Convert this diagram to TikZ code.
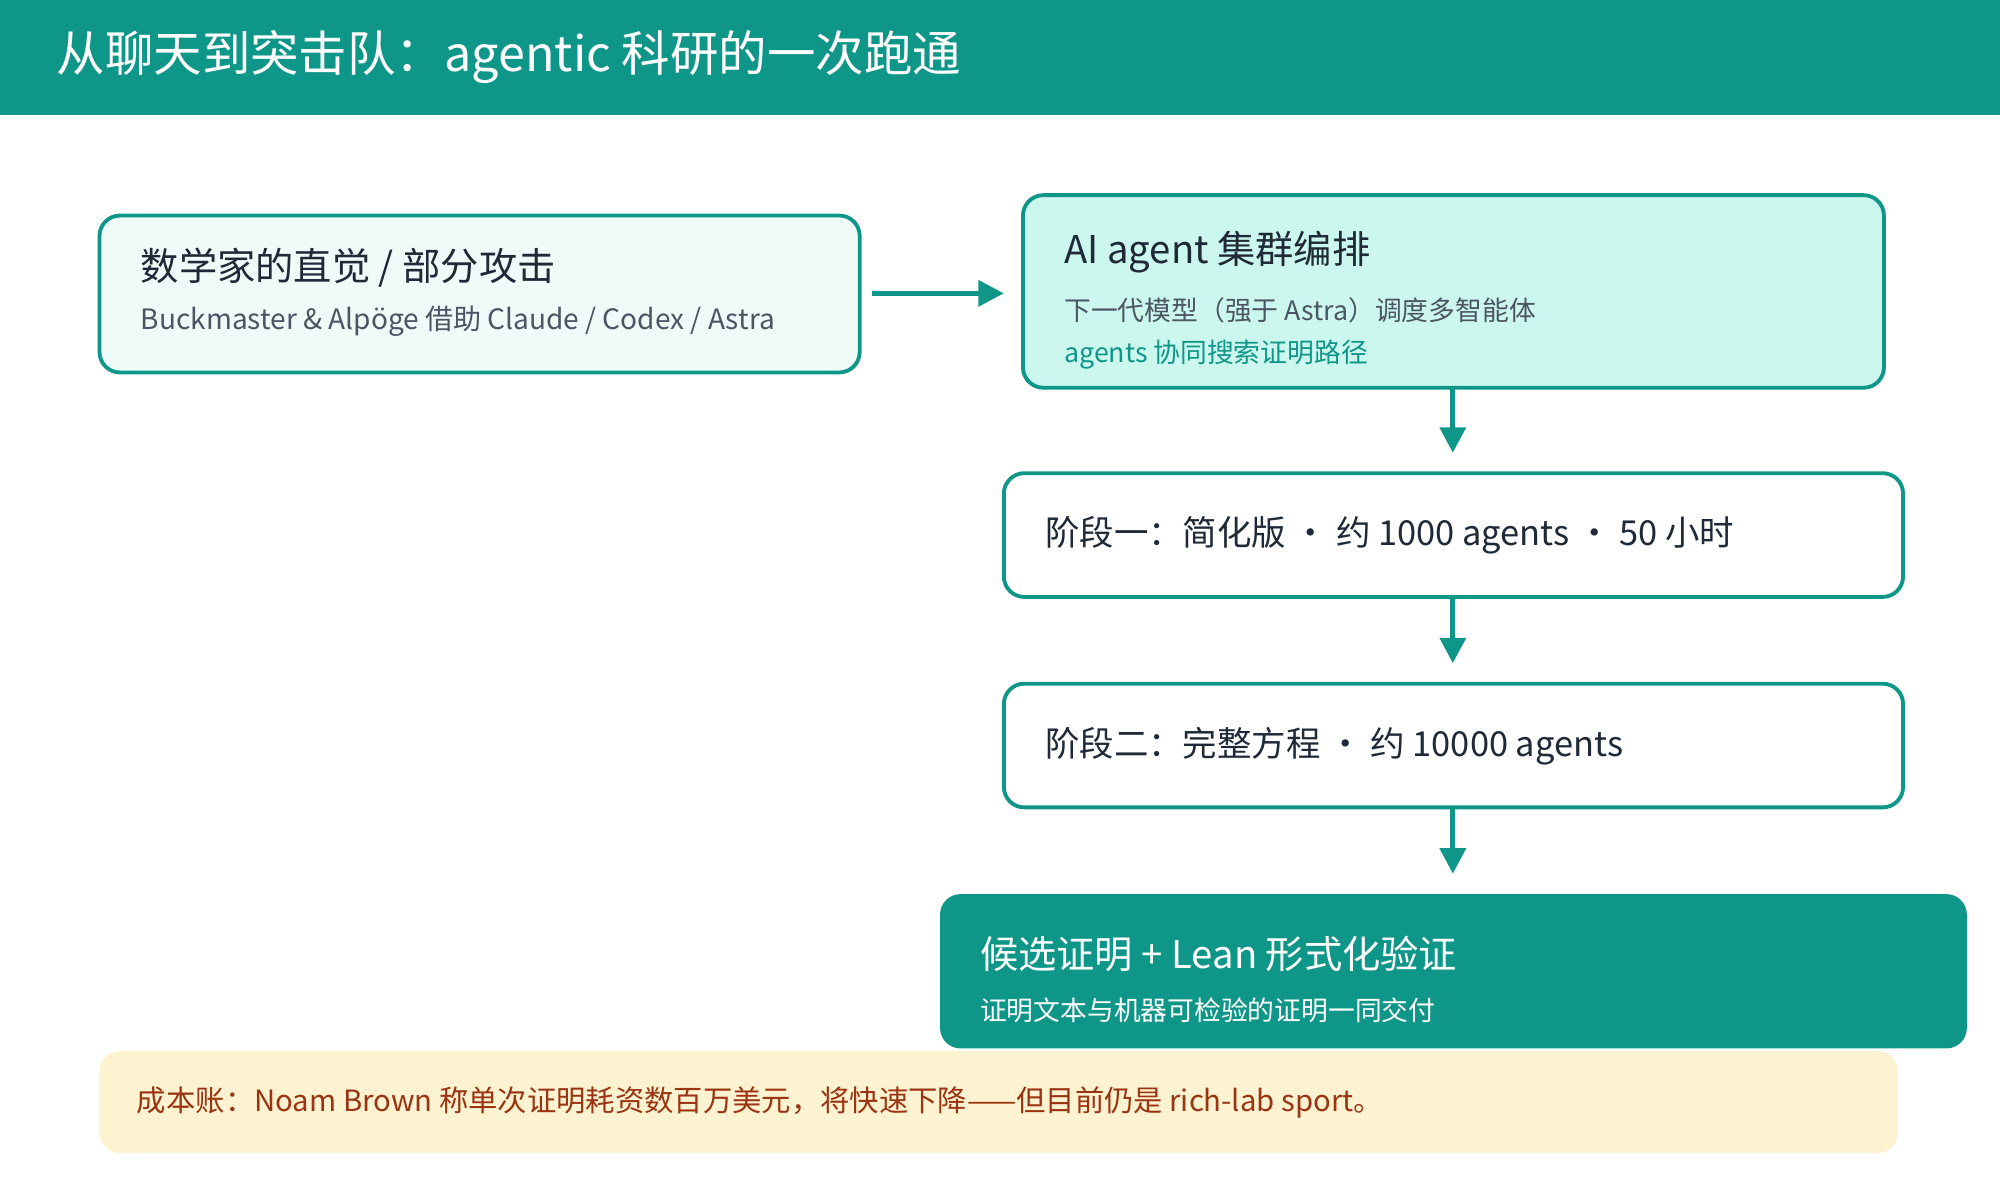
\documentclass[tikz,border=0pt]{standalone}
\usepackage{fontspec}
\setmainfont{Noto Sans CJK SC}
\usetikzlibrary{arrows.meta}
\definecolor{teal}{HTML}{0E9688}
\definecolor{mint}{HTML}{EEFBF8}
\definecolor{mint2}{HTML}{CCF7EE}
\definecolor{dark}{HTML}{1F2937}
\definecolor{gr}{HTML}{4B5563}
\definecolor{cream}{HTML}{FDF3D0}
\definecolor{brown}{HTML}{9A3412}
\begin{document}
\begin{tikzpicture}[x=0.5pt,y=-0.5pt,
  box/.style={draw=teal,line width=1.5pt,rounded corners=8pt},
  arr/.style={draw=teal,line width=2pt,-{Triangle[length=10pt,width=10pt]}},
  t/.style={anchor=west,inner sep=0pt}]
\useasboundingbox (0,0) rectangle (1568,940);
\fill[teal] (0,0) rectangle (1568,90);
\node[t,text=white,font=\fontsize{19}{22}\selectfont] (title) at (44,45) {从聊天到突击队：agentic 科研的一次跑通};
\draw[box,fill=mint] (78,169) rectangle (674,292);
\node[t,text=dark,font=\fontsize{15}{18}\selectfont] (b1t) at (110,210) {数学家的直觉 / 部分攻击};
\node[t,text=gr,font=\fontsize{11}{13}\selectfont] (b1s) at (110,252) {Buckmaster \& Alpöge 借助 Claude / Codex / Astra};
\draw[box,fill=mint2] (802,153) rectangle (1477,304);
\node[t,text=dark,font=\fontsize{15}{18}\selectfont] (b2t) at (834,198) {AI agent 集群编排};
\node[t,text=gr,font=\fontsize{10.5}{13}\selectfont] (b2s) at (834,243) {下一代模型（强于 Astra）调度多智能体};
\node[t,text=teal,font=\fontsize{10.5}{13}\selectfont] (b2u) at (834,278) {agents 协同搜索证明路径};
\draw[box,fill=white] (787,371) rectangle (1492,468);
\node[t,text=dark,font=\fontsize{13.5}{16}\selectfont] (b3) at (819,420) {阶段一：简化版 · 约 1000 agents · 50 小时};
\draw[box,fill=white] (787,536) rectangle (1492,633);
\node[t,text=dark,font=\fontsize{13.5}{16}\selectfont] (b4) at (819,585) {阶段二：完整方程 · 约 10000 agents};
\fill[teal,rounded corners=8pt] (737,701) rectangle (1542,822);
\node[t,text=white,font=\fontsize{15}{18}\selectfont] (b5t) at (768,748) {候选证明 + Lean 形式化验证};
\node[t,text=white,font=\fontsize{10.5}{13}\selectfont] (b5s) at (768,792) {证明文本与机器可检验的证明一同交付};
\fill[cream,rounded corners=8pt] (78,824) rectangle (1488,904);
\node[t,text=brown,font=\fontsize{11.5}{14}\selectfont] (cost) at (107,864) {成本账：Noam Brown 称单次证明耗资数百万美元，将快速下降——但目前仍是 rich-lab sport。};
\coordinate (a1s) at (684,230); \coordinate (a1e) at (787,230);
\draw[arr] (a1s) -- (a1e);
\coordinate (p1) at (1139,305); \coordinate (p2) at (1139,355);
\coordinate (p3) at (1139,469); \coordinate (p4) at (1139,520);
\coordinate (p5) at (1139,634); \coordinate (p6) at (1139,685);
\draw[arr] (p1) -- (p2); \draw[arr] (p3) -- (p4); \draw[arr] (p5) -- (p6);
\end{tikzpicture}
\end{document}
